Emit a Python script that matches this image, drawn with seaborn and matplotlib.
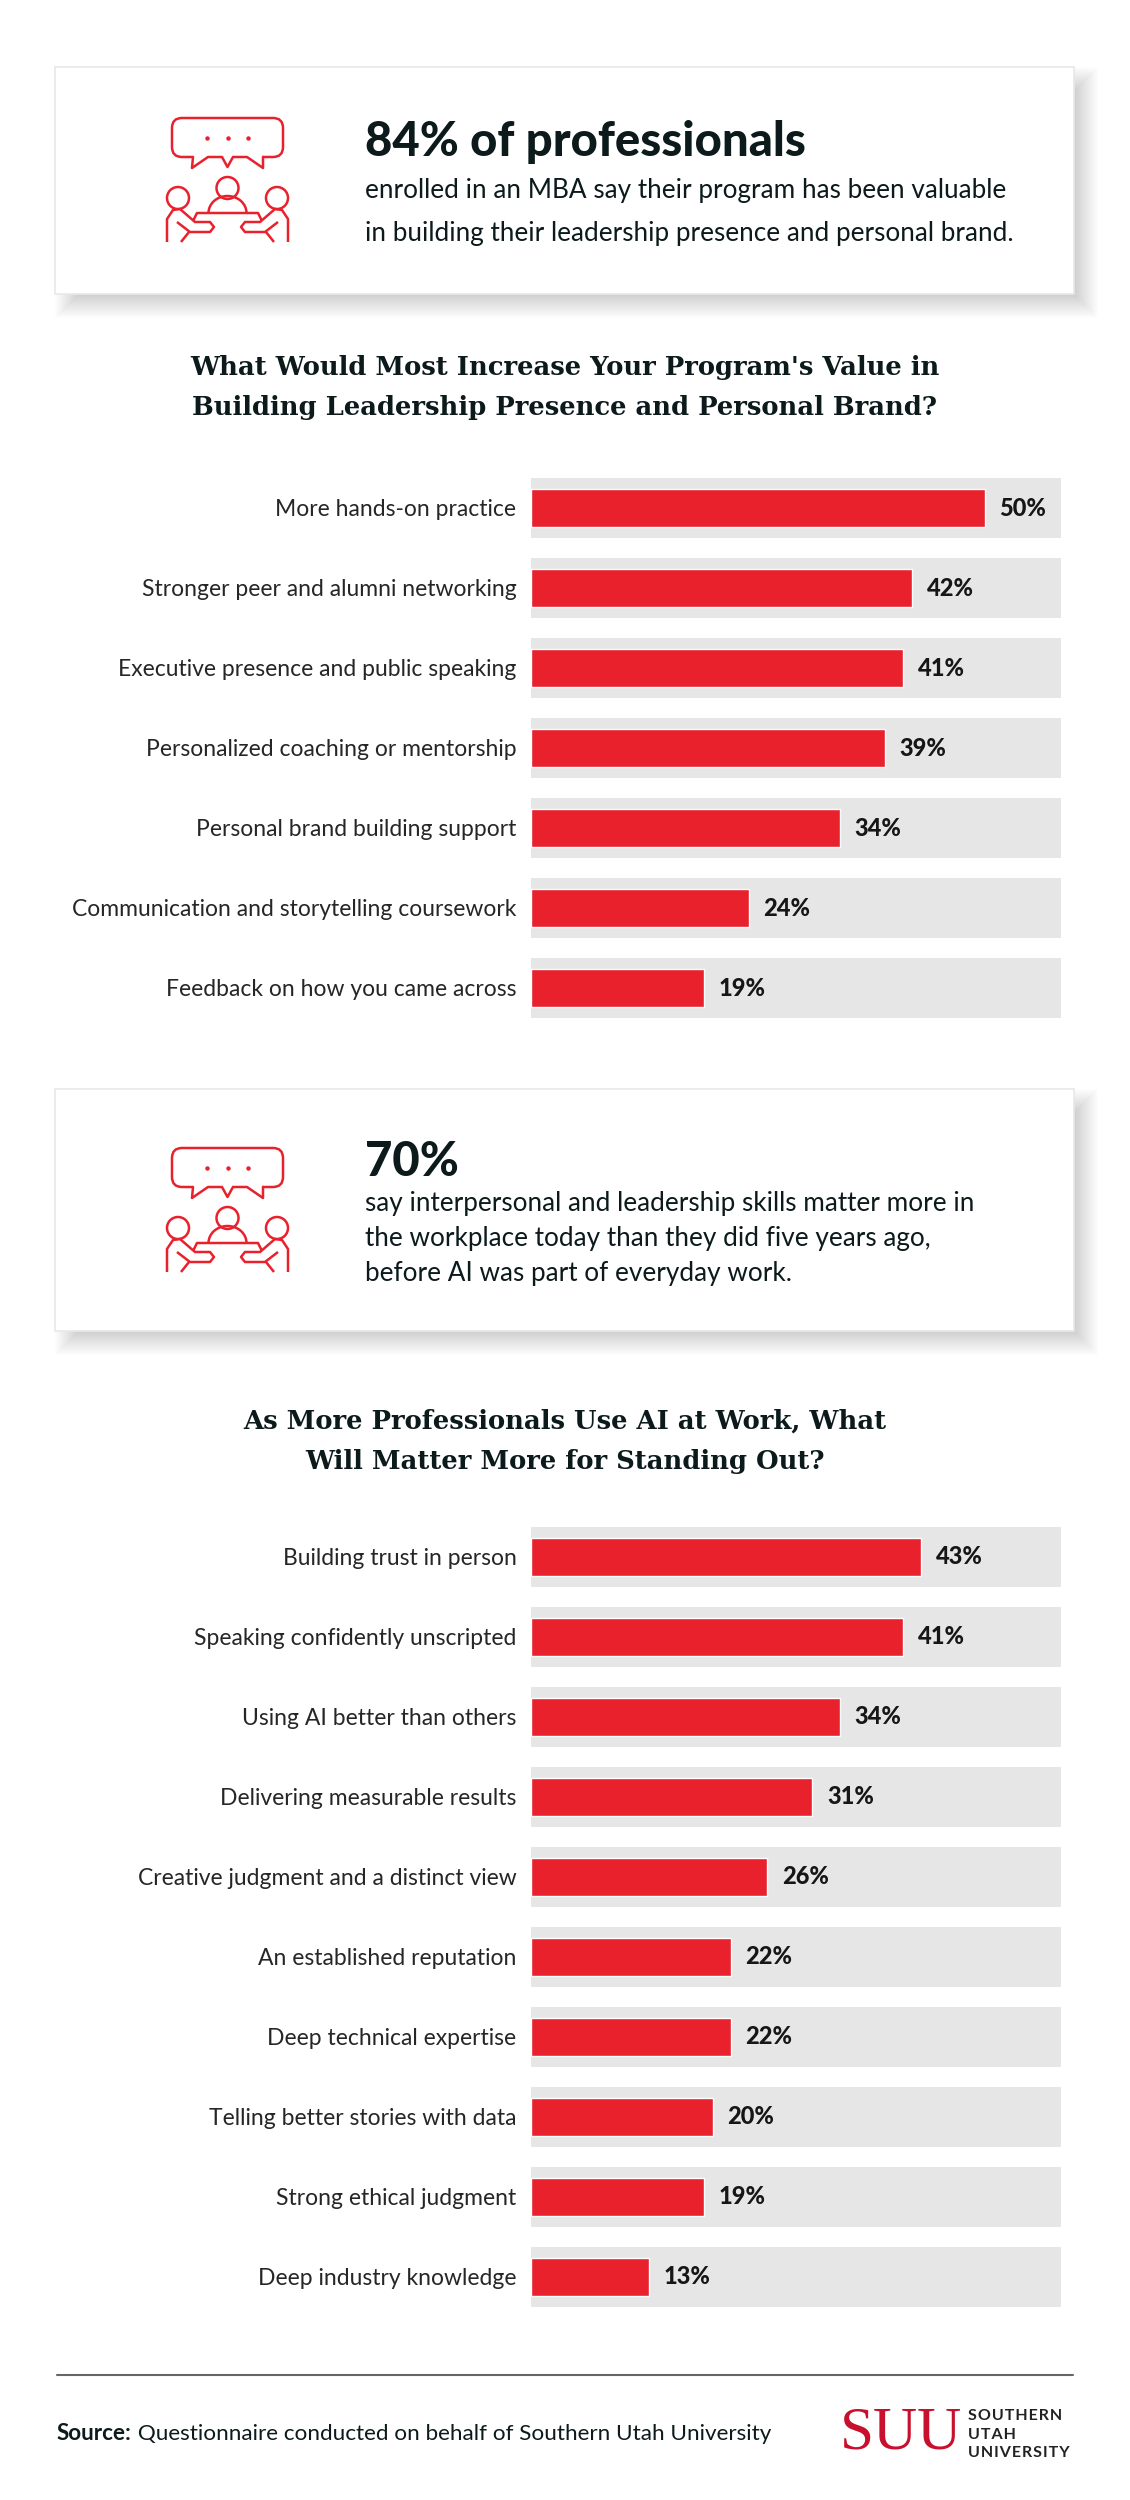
import matplotlib
matplotlib.use("Agg")
import matplotlib.pyplot as plt
import matplotlib.patches as mpatches
import pandas as pd
import seaborn as sns

FIG_W, FIG_H = 1130, 2500
RED = "#e8212d"
TRACK = "#e6e6e6"
INK = "#0c1a1c"

labels_value = [
    "More hands-on practice",
    "Stronger peer and alumni networking",
    "Executive presence and public speaking",
    "Personalized coaching or mentorship",
    "Personal brand building support",
    "Communication and storytelling coursework",
    "Feedback on how you came across",
]
values_value = [50, 42, 41, 39, 34, 24, 19]

labels_ai = [
    "Building trust in person",
    "Speaking confidently unscripted",
    "Using AI better than others",
    "Delivering measurable results",
    "Creative judgment and a distinct view",
    "An established reputation",
    "Deep technical expertise",
    "Telling better stories with data",
    "Strong ethical judgment",
    "Deep industry knowledge",
]
values_ai = [43, 41, 34, 31, 26, 22, 22, 20, 19, 13]

sns.set_theme(style="white")
plt.rcParams["font.family"] = ["Lato", "DejaVu Sans"]

fig = plt.figure(figsize=(FIG_W / 100, FIG_H / 100), dpi=100, facecolor="white")
page = fig.add_axes([0, 0, 1, 1], zorder=0)
page.set_xlim(0, FIG_W)
page.set_ylim(FIG_H, 0)
page.axis("off")


def draw_card(x0, y0, x1, y1):
    # soft drop shadow, stacked translucent rectangles
    for grow in range(12, -13, -1):
        page.add_patch(mpatches.Rectangle(
            (x0 + 12 - grow, y0 + 12 - grow), x1 - x0 + 2 * grow, y1 - y0 + 2 * grow,
            facecolor="black", edgecolor="none", alpha=0.0065))
    page.add_patch(mpatches.Rectangle(
        (x0, y0), x1 - x0, y1 - y0, facecolor="white", edgecolor="#e8e8e8", lw=1.2))


def draw_icon(dy):
    # table-talk icon
    def line(points, mirror=False):
        xs = [p[0] for p in points]
        ys = [p[1] + dy for p in points]
        if mirror:
            xs = [2 * 227.5 - x for x in xs]
        page.plot(xs, ys, color=RED, lw=1.8, solid_capstyle="butt", solid_joinstyle="round")

    page.add_patch(mpatches.FancyBboxPatch(
        (182, 128 + dy), 91, 19, boxstyle="round,pad=10,rounding_size=10",
        facecolor="none", edgecolor=RED, lw=1.8))
    page.add_patch(mpatches.Rectangle((193, 155 + dy), 69, 4, facecolor="white", edgecolor="none", zorder=3))
    page.plot([193, 192, 208, 222, 227.5, 233, 247, 263, 263],
              [157 + dy, 168 + dy, 157 + dy, 157 + dy, 167 + dy, 157 + dy, 157 + dy, 168 + dy, 157 + dy],
              color=RED, lw=1.8, zorder=4)
    for x in (207, 227.5, 248):
        page.plot(x, 138 + dy, "o", color=RED, ms=2.2)
    page.add_patch(mpatches.Circle((227.5, 188 + dy), 11, facecolor="none", edgecolor=RED, lw=1.8))
    page.add_patch(mpatches.Arc((227.5, 213 + dy), 38, 34, theta1=180, theta2=360, edgecolor=RED, lw=1.8))
    line([(193, 221), (197, 213), (258, 213), (262, 221)])
    for mirror in (False, True):
        cx = 178 if not mirror else 277
        page.add_patch(mpatches.Circle((cx, 198 + dy), 11, facecolor="none", edgecolor=RED, lw=1.8))
        line([(167, 242), (167, 219), (173, 210), (180, 209), (195, 222), (210, 222), (214, 227),
              (210, 232), (190, 232), (177, 222)], mirror)
        line([(189, 232), (181, 242)], mirror)


def draw_chart(labels, values, top, pitch=80):
    # axes spans the tracks; one x unit is one percent
    n = len(labels)
    ax = fig.add_axes([531 / FIG_W, 1 - (top + pitch * n) / FIG_H, 530 / FIG_W, pitch * n / FIG_H],
                      zorder=2, facecolor="none")
    df = pd.DataFrame({"label": labels, "value": values})
    sns.barplot(data=df, x="value", y="label", color=RED, saturation=1, width=0.475, ax=ax, zorder=3)
    ax.set_xlim(0, 530 / 9.08)
    ax.set_ylim(n - 0.5, -0.5)
    for i in range(n):
        ax.axhspan(i - 0.375, i + 0.375, color=TRACK, lw=0, zorder=1)
    ax.bar_label(ax.containers[0], labels=[f"{v}%" for v in values], padding=10.5,
                 fontsize=17, fontweight=900, color="#161616")
    ax.set_xlabel("")
    ax.set_ylabel("")
    ax.set_xticks([])
    ax.tick_params(axis="y", length=0, pad=10.5, labelsize=16.5, labelcolor="#262626")
    sns.despine(ax=ax, left=True, bottom=True)
    return ax


draw_card(55, 67, 1074, 294)
draw_icon(0)
page.text(365, 156, "84% of professionals", fontsize=34, fontweight=900, color=INK)
page.text(365, 198, "enrolled in an MBA say their program has been valuable", fontsize=18.8, color=INK)
page.text(365, 241, "in building their leadership presence and personal brand.", fontsize=18.8, color=INK)

title_font = {"family": "DejaVu Serif", "fontweight": "bold", "color": INK, "ha": "center", "va": "center", "fontsize": 18.6}
page.text(565, 368, "What Would Most Increase Your Program's Value in", **title_font)
page.text(565, 408, "Building Leadership Presence and Personal Brand?", **title_font)
draw_chart(labels_value, values_value, 468)

draw_card(55, 1089, 1074, 1331)
draw_icon(1030)
page.text(365, 1176, "70%", fontsize=34, fontweight=900, color=INK)
page.text(365, 1211, "say interpersonal and leadership skills matter more in", fontsize=18.8, color=INK)
page.text(365, 1246, "the workplace today than they did five years ago,", fontsize=18.8, color=INK)
page.text(365, 1281, "before AI was part of everyday work.", fontsize=18.8, color=INK)

page.text(565, 1421, "As More Professionals Use AI at Work, What", **title_font)
page.text(565, 1462, "Will Matter More for Standing Out?", **title_font)
draw_chart(labels_ai, values_ai, 1516.5)

page.plot([57, 1073], [2375, 2375], color="#666666", lw=1.5)
source = page.text(57, 2434, "Source:", fontsize=16.2, fontweight="bold", color=INK, va="center")
page.annotate(" Questionnaire conducted on behalf of Southern Utah University", xy=(1, 0.5), xycoords=source,
              fontsize=16.2, color=INK, va="center")
page.text(901, 2434, "SUU", family="Liberation Serif", fontsize=44, color="#c8102e", ha="center", va="center")
for y, word in zip((2416, 2435, 2453), ("SOUTHERN", "UTAH", "UNIVERSITY")):
    page.text(968, y, "\u200a".join(word), fontsize=11.5, fontweight="bold", color="#222222", va="center")

fig.savefig("out.png", dpi=100)
